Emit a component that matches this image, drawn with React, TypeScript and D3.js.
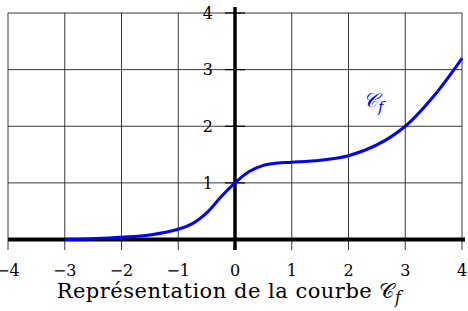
import { useMemo } from "react";
import * as d3 from "d3";

const WIDTH = 468;
const HEIGHT = 311;

// values
const curveX = [-3, -2.5, -2, -1.5, -1, -0.75, -0.5, -0.25, 0, 0.25, 0.5, 0.75, 1, 1.5, 2, 2.5, 3, 3.5, 4];
const curveY = [0, 0.015, 0.04, 0.08, 0.18, 0.28, 0.47, 0.75, 1.0, 1.2, 1.31, 1.35, 1.365, 1.4, 1.48, 1.67, 2.0, 2.53, 3.2];
const xTicks = [-4, -3, -2, -1, 0, 1, 2, 3, 4];
const yTicks = [1, 2, 3, 4];
const gridY = [0, 1, 2, 3, 4];

const SERIF = "'DejaVu Serif', serif";

export default function App() {
  // x=-4 at 8px, x=4 at 462px ; y=0 at 239.5, y=4 at 13
  const xScale = d3.scaleLinear().domain([-4, 4]).range([8, 462]);
  const yScale = d3.scaleLinear().domain([0, 4]).range([239.5, 13]);

  const path = useMemo(() => {
    const pts = curveX.map((x, i) => [x, curveY[i]] as [number, number]);
    return d3
      .line<[number, number]>()
      .x((d) => xScale(d[0]))
      .y((d) => yScale(d[1]))
      .curve(d3.curveCatmullRom.alpha(0.5))(pts);
  }, []);

  const bottom = 250;

  return (
    <svg
      width={WIDTH}
      height={HEIGHT}
      style={{ position: "absolute", left: 0, top: 0, background: "#fff" }}
    >
      {/* grid */}
      {xTicks.map((t) => (
        <line
          key={"gx" + t}
          x1={xScale(t)}
          x2={xScale(t)}
          y1={yScale(4)}
          y2={bottom}
          stroke="#222"
          strokeWidth={0.9}
        />
      ))}
      {gridY.map((t) => (
        <line
          key={"gy" + t}
          x1={xScale(-4)}
          x2={xScale(4)}
          y1={yScale(t)}
          y2={yScale(t)}
          stroke="#222"
          strokeWidth={0.9}
        />
      ))}

      {/* axes */}
      <line x1={xScale(-4)} x2={xScale(4) + 3} y1={yScale(0)} y2={yScale(0)} stroke="#000" strokeWidth={4} />
      <line x1={xScale(0)} x2={xScale(0)} y1={7} y2={bottom} stroke="#000" strokeWidth={3.5} />
      {yTicks.map((t) => (
        <line
          key={"ty" + t}
          x1={xScale(0) - 10}
          x2={xScale(0) + 10}
          y1={yScale(t)}
          y2={yScale(t)}
          stroke="#000"
          strokeWidth={1.2}
        />
      ))}

      {/* tick labels */}
      {yTicks.map((t) => (
        <text
          key={"ly" + t}
          x={xScale(0) - 22}
          y={yScale(t)}
          dy="0.36em"
          textAnchor="end"
          fontFamily={SERIF}
          fontSize={16}
        >
          {t}
        </text>
      ))}
      {xTicks.map((t) => (
        <text
          key={"lx" + t}
          x={xScale(t)}
          y={276}
          textAnchor="middle"
          fontFamily={SERIF}
          fontSize={16}
        >
          {t < 0 ? "\u2212" + Math.abs(t) : t}
        </text>
      ))}

      {/* curve */}
      <path d={path ?? ""} fill="none" stroke="#0000ff" strokeWidth={3} />
      <text x={363} y={107} fill="#0000ff" fontFamily={SERIF} fontSize={20} fontStyle="italic">
        {"\u{1D49E}"}
        <tspan dy={5} fontSize={15}>f</tspan>
      </text>

      {/* caption */}
      <text x={229} y={298} textAnchor="middle" fontFamily={SERIF} fontSize={21} letterSpacing={0.5}>
        Représentation de la courbe {"\u{1D49E}"}
        <tspan dy={5} fontStyle="italic" fontSize={16}>f</tspan>
      </text>
    </svg>
  );
}
